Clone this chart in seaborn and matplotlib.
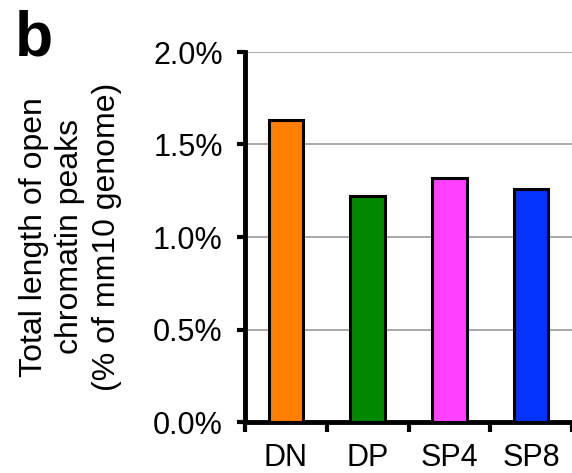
import matplotlib
matplotlib.use("Agg")
import matplotlib.pyplot as plt
import seaborn as sns
import pandas as pd
from matplotlib.ticker import FixedLocator, FuncFormatter

categories = ["DN", "DP", "SP4", "SP8"]
values = [1.632, 1.223, 1.317, 1.261]
colors = ["#FF7F00", "#008800", "#FF40FF", "#0433FF"]
yticks = [0.0, 0.5, 1.0, 1.5, 2.0]
ylabel = "Total length of open\nchromatin peaks\n(% of mm10 genome)"

sns.set_theme(style="white")
plt.rcParams["font.family"] = ["Liberation Sans", "DejaVu Sans"]
plt.rcParams.update({"text.color": "black", "axes.labelcolor": "black",
                     "xtick.color": "black", "ytick.color": "black"})

df = pd.DataFrame({"cat": categories, "val": values})

fig = plt.figure(figsize=(5.72, 4.73), dpi=100)
ax = fig.add_axes([245 / 572, 51 / 473, 327 / 572, 370 / 473])
sns.barplot(data=df, x="cat", y="val", hue="cat", palette=colors,
            order=categories, hue_order=categories, legend=False,
            saturation=1, edgecolor="black", linewidth=2.2, width=0.42,
            ax=ax, zorder=3)

ax.set_ylim(0, 2.0)
ax.set_xlim(-0.5, 3.454)
ax.yaxis.set_major_locator(FixedLocator(yticks))
ax.yaxis.set_major_formatter(FuncFormatter(lambda v, p: f"{v:.1f}%"))
ax.grid(axis="y", color="#999999", linewidth=1.2, zorder=0)
ax.set_axisbelow(True)

for s in ["top", "right"]:
    ax.spines[s].set_visible(False)
ax.spines["left"].set_linewidth(3.5)
ax.spines["bottom"].set_linewidth(3.5)
ax.spines["left"].set_color("black")
ax.spines["bottom"].set_color("black")

ax.tick_params(axis="y", which="major", direction="out", length=6, width=3,
               color="black", labelcolor="black", labelsize=22, pad=10, left=True)
ax.set_xticks(range(len(categories)))
ax.set_xticklabels(categories)
ax.tick_params(axis="x", which="major", length=0, labelsize=22, pad=15,
               labelcolor="black")
ax.set_xticks([-0.5, 0.5, 1.5, 2.5, 3.5], minor=True)
ax.tick_params(axis="x", which="minor", direction="out", length=7, width=3,
               color="black", bottom=True)

ax.set_xlabel("")
ax.set_ylabel(ylabel, fontsize=23, linespacing=1.3, labelpad=22, color="black")

fig.text(15 / 572, 1 - 9 / 473, "b", fontsize=45, fontweight="bold",
         va="top", ha="left", color="black")

fig.savefig("out.png", dpi=100)
